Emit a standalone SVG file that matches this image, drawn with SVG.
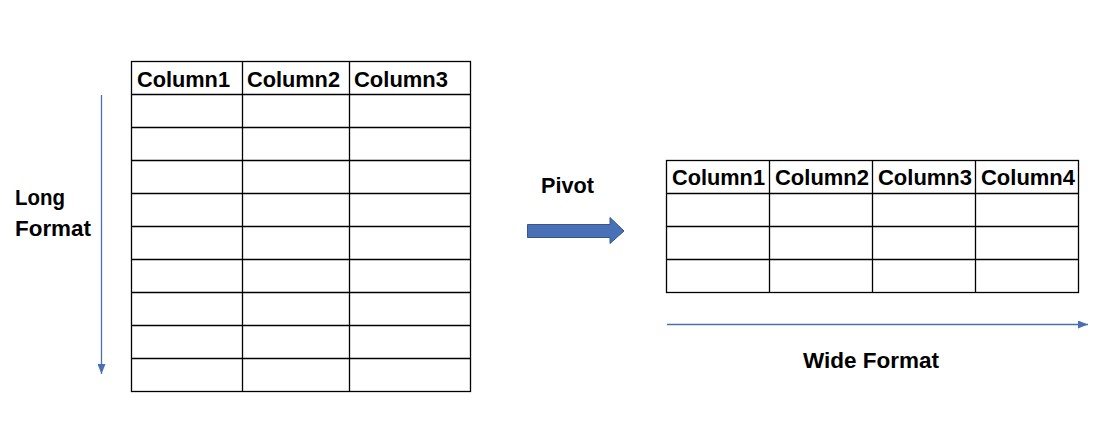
<svg xmlns="http://www.w3.org/2000/svg" width="1109" height="425" viewBox="0 0 1109 425">
<style>
  .grid { stroke: #000; stroke-width: 1.3; fill: none; }
  .t { font-family: "Liberation Sans", Arial, sans-serif; font-weight: bold; font-size: 22px; fill: #000; }
  .conn { stroke: #4a6fb3; stroke-width: 1.3; fill: none; }
</style>
<defs>
  <marker id="ah" markerWidth="10" markerHeight="8" refX="10" refY="4" orient="auto" markerUnits="userSpaceOnUse">
    <path d="M0,0 L10,4 L0,8 Z" fill="#4a6fb3"/>
  </marker>
</defs>
<rect width="1109" height="425" fill="#fff"/>

<g id="long-table">
  <rect class="grid" x="131.5" y="61.5" width="339" height="330"/>
  <path class="grid" d="M242.5,61.5V391.5 M349.5,61.5V391.5 M131.5,94.5H470.5 M131.5,127.5H470.5 M131.5,160.5H470.5 M131.5,193.5H470.5 M131.5,226.5H470.5 M131.5,259.5H470.5 M131.5,292.5H470.5 M131.5,325.5H470.5 M131.5,358.5H470.5"/>
  <text class="t" x="137" y="87" textLength="93" lengthAdjust="spacingAndGlyphs">Column1</text>
  <text class="t" x="247" y="87" textLength="93" lengthAdjust="spacingAndGlyphs">Column2</text>
  <text class="t" x="354" y="87" textLength="94" lengthAdjust="spacingAndGlyphs">Column3</text>
</g>

<g id="wide-table">
  <rect class="grid" x="666.5" y="160.5" width="412" height="132"/>
  <path class="grid" d="M769.5,160.5V292.5 M872.5,160.5V292.5 M975.5,160.5V292.5 M666.5,193.5H1078.5 M666.5,226.5H1078.5 M666.5,259.5H1078.5"/>
  <text class="t" x="672" y="185" textLength="93" lengthAdjust="spacingAndGlyphs">Column1</text>
  <text class="t" x="775" y="185" textLength="94" lengthAdjust="spacingAndGlyphs">Column2</text>
  <text class="t" x="878" y="185" textLength="94" lengthAdjust="spacingAndGlyphs">Column3</text>
  <text class="t" x="981" y="185" textLength="94" lengthAdjust="spacingAndGlyphs">Column4</text>
</g>

<g id="labels">
  <text class="t" x="15" y="205" textLength="50" lengthAdjust="spacingAndGlyphs">Long</text>
  <text class="t" x="15" y="236" textLength="76" lengthAdjust="spacingAndGlyphs">Format</text>
  <text class="t" x="541" y="193" textLength="53" lengthAdjust="spacingAndGlyphs">Pivot</text>
  <text class="t" x="803" y="368" textLength="136" lengthAdjust="spacingAndGlyphs">Wide Format</text>
</g>

<g id="connectors">
  <line class="conn" x1="101.5" y1="95" x2="101.5" y2="374" marker-end="url(#ah)"/>
  <line class="conn" x1="667" y1="324.5" x2="1088" y2="324.5" marker-end="url(#ah)"/>
  <path d="M527.5,224.5 H610 V217.5 L624,231 L610,243.5 V237.5 H527.5 Z" fill="#4a70b5" stroke="#34558f" stroke-width="1"/>
</g>
</svg>
